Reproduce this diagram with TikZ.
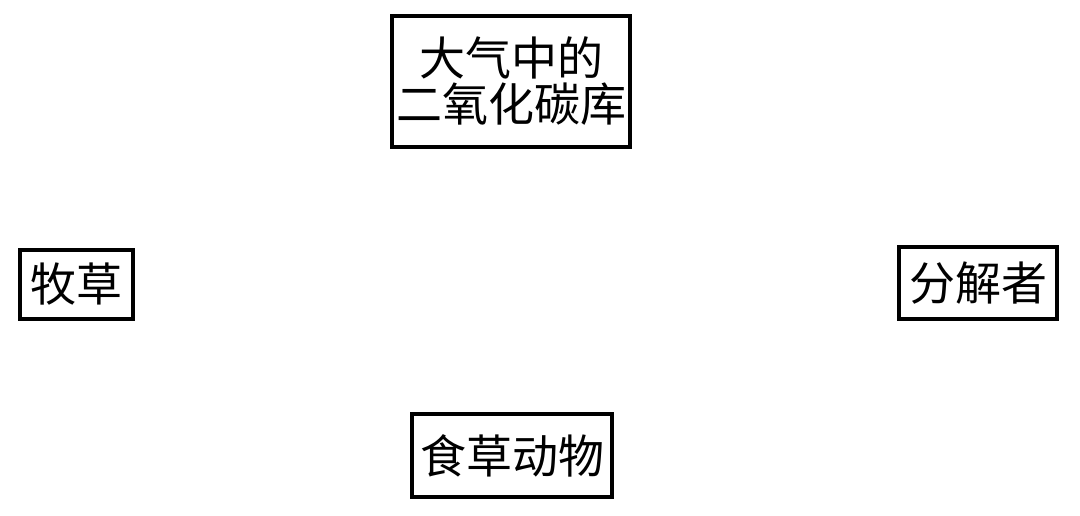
\documentclass[tikz,border=0pt]{standalone}
\usepackage{fontspec}
\newfontfamily\cjk{Noto Sans CJK SC}
\begin{document}
\begin{tikzpicture}[x=1pt,y=1pt,
  box/.style={draw=black,line width=3.5pt,inner sep=0pt,align=center,
    font=\cjk\fontsize{46}{46}\selectfont}]
\useasboundingbox (0,0) rectangle (1080,516);
\node[box,minimum width=238pt,minimum height=131pt] (co2) at (511,434.5) {大气中的\\二氧化碳库};
\node[box,minimum width=113pt,minimum height=69pt] (grass) at (76.5,231.5) {牧草};
\node[box,minimum width=158pt,minimum height=72pt] (dec) at (978,233) {分解者};
\node[box,minimum width=200pt,minimum height=83pt] (herb) at (512,60.5) {食草动物};
\end{tikzpicture}
\end{document}
